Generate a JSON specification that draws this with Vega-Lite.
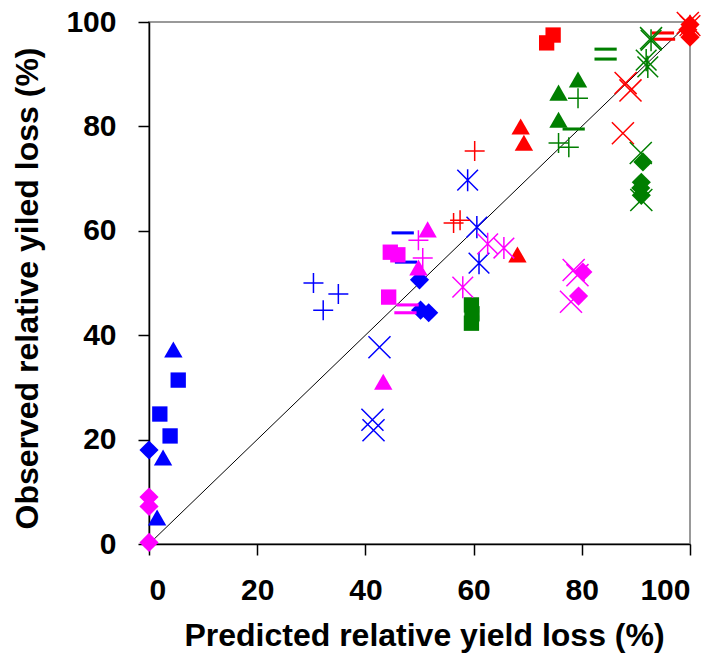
{
  "$schema": "https://vega.github.io/schema/vega-lite/v6.json",
  "width": 541,
  "height": 522,
  "autosize": {"type": "none"},
  "padding": {"left": 149, "top": 22, "right": 29, "bottom": 124},
  "background": "white",
  "config": {
    "view": {"stroke": "#999999", "strokeWidth": 2},
    "font": "Liberation Sans",
    "axis": {
      "grid": false,
      "domainColor": "black",
      "domainWidth": 1.5,
      "tickColor": "black",
      "tickWidth": 1.5,
      "tickSize": 11,
      "labelFont": "Liberation Sans",
      "labelFontWeight": "bold",
      "labelFontSize": 30,
      "labelColor": "black",
      "titleFont": "Liberation Sans",
      "titleFontWeight": "bold",
      "titleFontSize": 32,
      "titleColor": "black"
    }
  },
  "datasets": {
    "pts": [
      {"x": 0, "y": 18, "g": "G1", "m": "M1"},
      {"x": 50, "y": 50.6, "g": "G1", "m": "M1"},
      {"x": 50.2, "y": 44.8, "g": "G1", "m": "M1"},
      {"x": 51.7, "y": 44.3, "g": "G1", "m": "M1"},
      {"x": 5.4, "y": 31.4, "g": "G1", "m": "M2"},
      {"x": 2, "y": 24.9, "g": "G1", "m": "M2"},
      {"x": 3.9, "y": 20.7, "g": "G1", "m": "M2"},
      {"x": 4.5, "y": 37.2, "g": "G1", "m": "M3"},
      {"x": 2.6, "y": 16.5, "g": "G1", "m": "M3"},
      {"x": 1.5, "y": 5, "g": "G1", "m": "M3"},
      {"x": 42.6, "y": 37.7, "g": "G1", "m": "M4"},
      {"x": 41.3, "y": 23.8, "g": "G1", "m": "M4"},
      {"x": 41.5, "y": 21.8, "g": "G1", "m": "M4"},
      {"x": 58.9, "y": 69.7, "g": "G1", "m": "M5"},
      {"x": 60.6, "y": 60.7, "g": "G1", "m": "M5"},
      {"x": 61, "y": 53.8, "g": "G1", "m": "M5"},
      {"x": 30.4, "y": 50, "g": "G1", "m": "M6"},
      {"x": 35, "y": 47.9, "g": "G1", "m": "M6"},
      {"x": 32.2, "y": 44.8, "g": "G1", "m": "M6"},
      {"x": 46.9, "y": 59.6, "g": "G1", "m": "M7"},
      {"x": 47.5, "y": 54, "g": "G1", "m": "M7"},

      {"x": 0, "y": 9, "g": "G2", "m": "M1"},
      {"x": 0, "y": 7.2, "g": "G2", "m": "M1"},
      {"x": 0, "y": 0.3, "g": "G2", "m": "M1"},
      {"x": 80.2, "y": 52.1, "g": "G2", "m": "M1"},
      {"x": 79.4, "y": 47.5, "g": "G2", "m": "M1"},
      {"x": 44.6, "y": 55.9, "g": "G2", "m": "M2"},
      {"x": 46, "y": 55.4, "g": "G2", "m": "M2"},
      {"x": 44.3, "y": 47.3, "g": "G2", "m": "M2"},
      {"x": 51.5, "y": 60.2, "g": "G2", "m": "M3"},
      {"x": 49.8, "y": 52.9, "g": "G2", "m": "M3"},
      {"x": 43.3, "y": 31, "g": "G2", "m": "M3"},
      {"x": 78.5, "y": 52.5, "g": "G2", "m": "M4"},
      {"x": 79.2, "y": 51.5, "g": "G2", "m": "M4"},
      {"x": 78, "y": 46.4, "g": "G2", "m": "M4"},
      {"x": 62.6, "y": 57.5, "g": "G2", "m": "M5"},
      {"x": 65.6, "y": 56.7, "g": "G2", "m": "M5"},
      {"x": 58, "y": 49.2, "g": "G2", "m": "M5"},
      {"x": 49.8, "y": 58.2, "g": "G2", "m": "M6"},
      {"x": 50.6, "y": 54.8, "g": "G2", "m": "M6"},
      {"x": 47.8, "y": 45.8, "g": "G2", "m": "M7"},
      {"x": 47.4, "y": 44.3, "g": "G2", "m": "M7"},

      {"x": 100, "y": 97.1, "g": "G3", "m": "M1"},
      {"x": 99.6, "y": 98.5, "g": "G3", "m": "M1"},
      {"x": 100, "y": 99.5, "g": "G3", "m": "M1"},
      {"x": 73.5, "y": 96, "g": "G3", "m": "M2"},
      {"x": 74.7, "y": 97.5, "g": "G3", "m": "M2"},
      {"x": 68.7, "y": 79.9, "g": "G3", "m": "M3"},
      {"x": 69.3, "y": 76.8, "g": "G3", "m": "M3"},
      {"x": 68.1, "y": 55.4, "g": "G3", "m": "M3"},
      {"x": 88.1, "y": 88.3, "g": "G3", "m": "M4"},
      {"x": 89, "y": 86.9, "g": "G3", "m": "M4"},
      {"x": 87.6, "y": 78.7, "g": "G3", "m": "M4"},
      {"x": 99.6, "y": 99.8, "g": "G3", "m": "M4"},
      {"x": 100, "y": 99.3, "g": "G3", "m": "M5"},
      {"x": 56.3, "y": 61.5, "g": "G3", "m": "M6"},
      {"x": 57.5, "y": 62, "g": "G3", "m": "M6"},
      {"x": 60.2, "y": 75.3, "g": "G3", "m": "M6"},
      {"x": 95, "y": 97.9, "g": "G3", "m": "M7"},
      {"x": 95.2, "y": 96.7, "g": "G3", "m": "M7"},

      {"x": 91.3, "y": 73.2, "g": "G4", "m": "M1"},
      {"x": 91, "y": 69.3, "g": "G4", "m": "M1"},
      {"x": 90.9, "y": 68.2, "g": "G4", "m": "M1"},
      {"x": 91, "y": 66.8, "g": "G4", "m": "M1"},
      {"x": 59.6, "y": 45.8, "g": "G4", "m": "M2"},
      {"x": 59.7, "y": 44.1, "g": "G4", "m": "M2"},
      {"x": 59.6, "y": 42.3, "g": "G4", "m": "M2"},
      {"x": 75.7, "y": 86.4, "g": "G4", "m": "M3"},
      {"x": 79.3, "y": 88.9, "g": "G4", "m": "M3"},
      {"x": 75.7, "y": 81.2, "g": "G4", "m": "M3"},
      {"x": 90.9, "y": 74.9, "g": "G4", "m": "M4"},
      {"x": 91, "y": 65.9, "g": "G4", "m": "M4"},
      {"x": 92.8, "y": 96.9, "g": "G4", "m": "M4"},
      {"x": 91.9, "y": 92.7, "g": "G4", "m": "M5"},
      {"x": 92.2, "y": 91.4, "g": "G4", "m": "M5"},
      {"x": 92.8, "y": 96.5, "g": "G4", "m": "M5"},
      {"x": 79.3, "y": 85.4, "g": "G4", "m": "M6"},
      {"x": 75.7, "y": 76.8, "g": "G4", "m": "M6"},
      {"x": 77.6, "y": 76, "g": "G4", "m": "M6"},
      {"x": 84.4, "y": 94.8, "g": "G4", "m": "M7"},
      {"x": 84.4, "y": 92.9, "g": "G4", "m": "M7"},
      {"x": 78.5, "y": 79.5, "g": "G4", "m": "M7"}
    ],
    "diag": [
      {"x": 0, "y": 0},
      {"x": 100, "y": 100}
    ]
  },
  "encoding": {
    "x": {
      "field": "x",
      "type": "quantitative",
      "scale": {"domain": [0, 100], "nice": false},
      "axis": {
        "title": "Predicted relative yield loss (%)",
        "values": [0, 20, 40, 60, 80, 100],
        "labelPadding": 20,
        "titleX": 275,
        "titleY": 101,
        "titleBaseline": "alphabetic",
        "titleAlign": "center"
      }
    },
    "y": {
      "field": "y",
      "type": "quantitative",
      "scale": {"domain": [0, 100], "nice": false},
      "axis": {
        "title": "Observed relative yiled loss (%)",
        "values": [0, 20, 40, 60, 80, 100],
        "labelPadding": 22,
        "titleX": -112,
        "titleY": 266,
        "titleBaseline": "alphabetic",
        "titleAlign": "center",
        "titleAngle": -90
      }
    }
  },
  "layer": [
    {
      "data": {"name": "diag"},
      "mark": {"type": "line", "color": "black", "strokeWidth": 1}
    },
    {
      "data": {"name": "pts"},
      "transform": [{"filter": {"field": "m", "oneOf": ["M1", "M2", "M3", "M7"]}}],
      "mark": {"type": "point", "filled": true, "size": 235, "opacity": 1},
      "encoding": {
        "color": {
          "field": "g", "type": "nominal", "legend": null,
          "scale": {"domain": ["G1", "G2", "G3", "G4"], "range": ["#0000FF", "#FF00FF", "#FF0000", "#007F00"]}
        },
        "shape": {
          "field": "m", "type": "nominal", "legend": null,
          "scale": {
            "domain": ["M1", "M2", "M3", "M4", "M5", "M6", "M7"],
            "range": [
              "M0,-1.25L1.25,0L0,1.25L-1.25,0Z",
              "M-1,-1L1,-1L1,1L-1,1Z",
              "M0,-1.1L1.2,1L-1.2,1Z",
              "M-1.6,-1.6L1.6,1.6M-1.6,1.6L1.6,-1.6",
              "M-1.5,-1.5L1.5,1.5M-1.5,1.5L1.5,-1.5M0,-1.6L0,1.6",
              "M-1.45,0L1.45,0M0,-1.45L0,1.45",
              "M-1.45,-0.2L1.45,-0.2L1.45,0.2L-1.45,0.2Z"
            ]
          }
        }
      }
    },
    {
      "data": {"name": "pts"},
      "transform": [{"filter": {"field": "m", "oneOf": ["M4", "M5", "M6"]}}],
      "mark": {"type": "point", "filled": false, "size": 190, "strokeWidth": 1.5, "opacity": 1},
      "encoding": {
        "color": {"field": "g", "type": "nominal", "legend": null},
        "shape": {"field": "m", "type": "nominal", "legend": null}
      }
    }
  ]
}
